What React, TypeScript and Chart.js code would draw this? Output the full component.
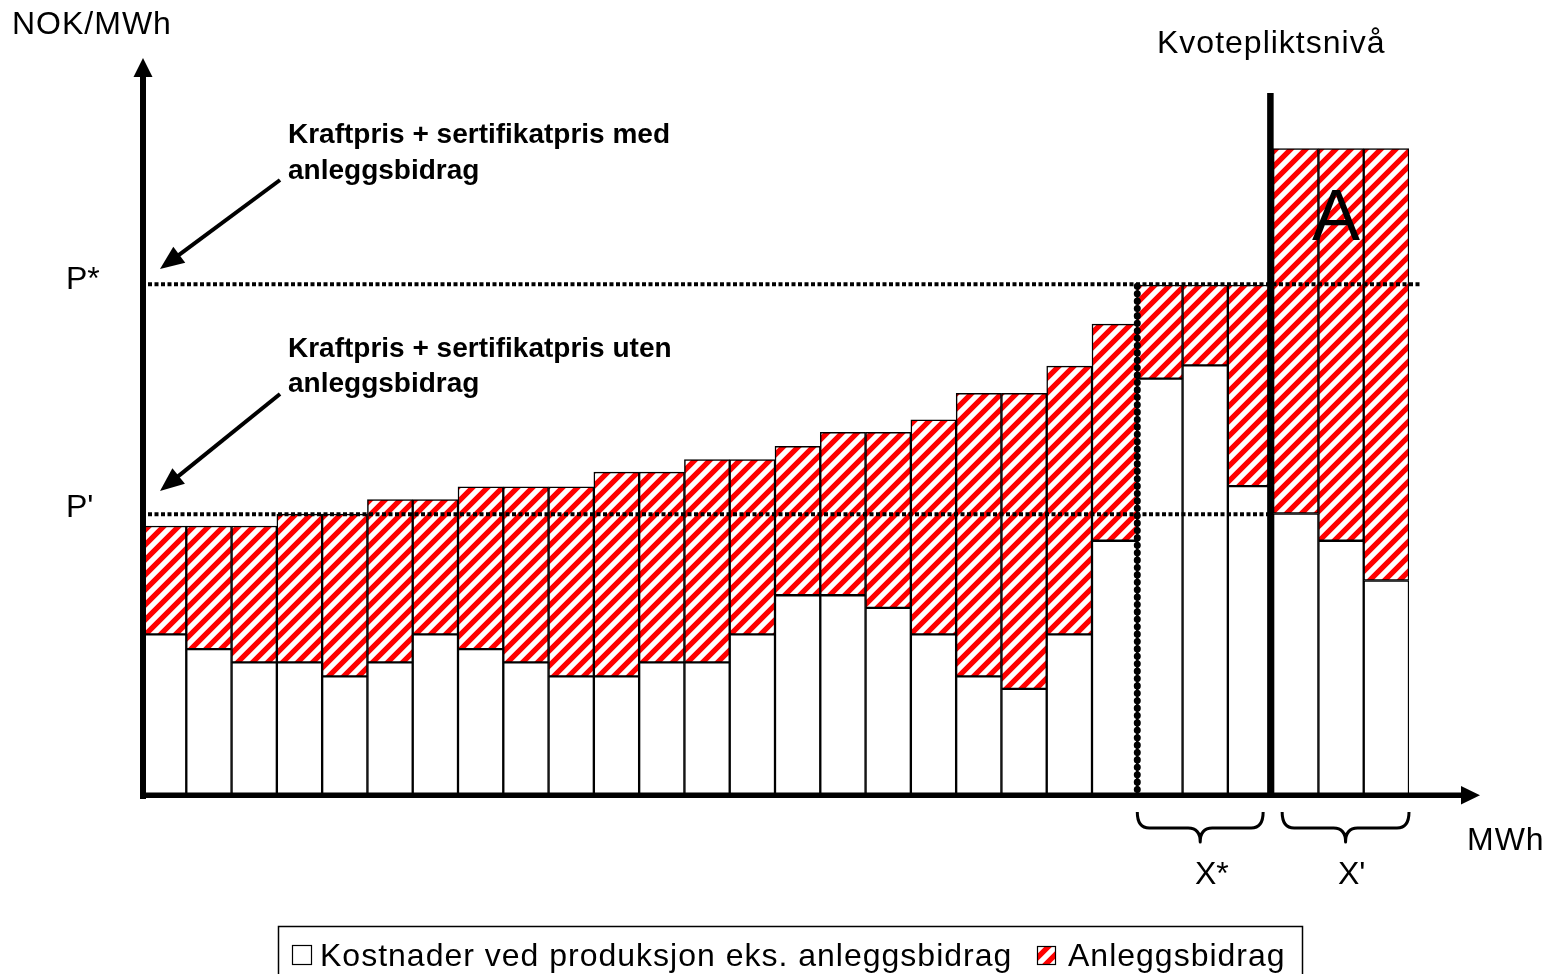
import React, { useEffect, useRef } from 'react';
import { Chart, registerables } from 'chart.js';

Chart.register(...registerables);

// ---- Data ----
const categories = ['1','2','3','4','5','6','7','8','9','10','11','12','13','14','15','16','17','18','19','20','21','22','23','24','25','26','27','28'];
// Kostnader ved produksjon eks. anleggsbidrag (white part)
const costValues = [21.8,19.8,18.0,18.0,16.1,18.0,21.8,19.8,18.0,16.1,16.1,18.0,18.0,21.8,27.1,27.1,25.4,21.8,16.1,14.4,21.8,34.5,56.5,58.3,41.9,38.2,34.5,29.1];
// Anleggsbidrag (hatched part)
const bidragValues = [14.7,16.7,18.5,20.1,22.0,22.1,18.3,22.0,23.8,25.7,27.7,25.8,27.5,23.7,20.2,22.1,23.8,29.1,38.4,40.1,36.4,29.4,12.7,10.9,27.3,49.5,53.2,58.6];
const seriesLabels = ['Kostnader ved produksjon eks. anleggsbidrag', 'Anleggsbidrag'];
const priceLevels = [69.3, 38.1]; // P*, P'
const priceLabels = ['P*', "P'"];
const xStarIndex = 22;      // boundary where X* starts
const quotaIndex = 25;      // Kvotepliktsnivå boundary
const yMax = 100;

const FONT = '"Liberation Sans", Arial, Helvetica, sans-serif';

function makePattern(ctx: CanvasRenderingContext2D): CanvasPattern | string {
  const s = 15;
  const halfW = 2.6;
  const c = document.createElement('canvas');
  c.width = s; c.height = s;
  const g = c.getContext('2d')!;
  const img = g.createImageData(s, s);
  for (let py = 0; py < s; py++) {
    for (let px = 0; px < s; px++) {
      const t = (((px + 0.5) + (py + 0.5)) % s) / s;
      const dist = Math.min(t, 1 - t) * s / Math.SQRT2;
      const cov = Math.max(0, Math.min(1, halfW + 0.5 - dist));
      const i = (py * s + px) * 4;
      img.data[i] = 255;
      img.data[i + 1] = Math.round(255 * (1 - cov));
      img.data[i + 2] = Math.round(255 * (1 - cov));
      img.data[i + 3] = 255;
    }
  }
  g.putImageData(img, 0, 0);
  return ctx.createPattern(c, 'repeat') || '#ff0000';
}

function arrow(ctx: CanvasRenderingContext2D, x1: number, y1: number, x2: number, y2: number, len: number, half: number, lw: number) {
  const ang = Math.atan2(y2 - y1, x2 - x1);
  const bx = x2 - Math.cos(ang) * len;
  const by = y2 - Math.sin(ang) * len;
  ctx.save();
  ctx.strokeStyle = '#000';
  ctx.fillStyle = '#000';
  ctx.lineWidth = lw;
  ctx.lineCap = 'butt';
  ctx.beginPath();
  ctx.moveTo(x1, y1);
  ctx.lineTo(bx + Math.cos(ang) * 2, by + Math.sin(ang) * 2);
  ctx.stroke();
  ctx.beginPath();
  ctx.moveTo(x2, y2);
  ctx.lineTo(bx + Math.cos(ang + Math.PI / 2) * half, by + Math.sin(ang + Math.PI / 2) * half);
  ctx.lineTo(bx - Math.cos(ang + Math.PI / 2) * half, by - Math.sin(ang + Math.PI / 2) * half);
  ctx.closePath();
  ctx.fill();
  ctx.restore();
}

function brace(ctx: CanvasRenderingContext2D, x1: number, x2: number, yTop: number) {
  const h = 16, r = 12, tip = 14;
  const mid = (x1 + x2) / 2;
  const yb = yTop + h;
  ctx.save();
  ctx.strokeStyle = '#000';
  ctx.lineWidth = 3;
  ctx.lineJoin = 'round';
  ctx.beginPath();
  ctx.moveTo(x1, yTop);
  ctx.quadraticCurveTo(x1, yb, x1 + r, yb);
  ctx.lineTo(mid - r, yb);
  ctx.quadraticCurveTo(mid, yb, mid, yb + tip);
  ctx.quadraticCurveTo(mid, yb, mid + r, yb);
  ctx.lineTo(x2 - r, yb);
  ctx.quadraticCurveTo(x2, yb, x2, yTop);
  ctx.stroke();
  ctx.restore();
}

function text(ctx: CanvasRenderingContext2D, s: string, x: number, y: number, size: number, bold = false, spacing = 0) {
  ctx.save();
  ctx.fillStyle = '#000';
  ctx.font = `${bold ? 'bold ' : ''}${size}px ${FONT}`;
  ctx.textAlign = 'left';
  ctx.textBaseline = 'alphabetic';
  (ctx as any).letterSpacing = `${spacing}px`;
  ctx.fillText(s, x, y);
  ctx.restore();
}

export default function App() {
  const ref = useRef<HTMLCanvasElement>(null);
  useEffect(() => {
    const canvas = ref.current!;
    const ctx0 = canvas.getContext('2d')!;
    const pattern = makePattern(ctx0);

    const overlay = {
      id: 'overlay',
      afterDatasetsDraw(chart: any) {
        const ctx: CanvasRenderingContext2D = chart.ctx;
        const xs = chart.scales.x;
        const ys = chart.scales.y;
        const n = categories.length;
        const bw = (xs.getPixelForValue(1) - xs.getPixelForValue(0));
        const bound = (i: number) => xs.getPixelForValue(0) - bw / 2 + i * bw;
        const y0 = ys.getPixelForValue(0);
        const yStar = ys.getPixelForValue(priceLevels[0]);
        const yPrime = ys.getPixelForValue(priceLevels[1]);
        const xQuota = bound(quotaIndex) - 3;
        const xStar = bound(xStarIndex);

        // horizontal dotted price lines
        ctx.save();
        ctx.strokeStyle = '#000';
        ctx.lineWidth = 4;
        ctx.setLineDash([4, 2.5]);
        ctx.beginPath();
        ctx.moveTo(bound(0) + 7, yStar);
        ctx.lineTo(bound(n) + 12, yStar);
        ctx.stroke();
        ctx.beginPath();
        ctx.moveTo(bound(0) + 7, yPrime);
        ctx.lineTo(xQuota, yPrime);
        ctx.stroke();
        ctx.restore();

        // vertical dotted line at X*
        ctx.save();
        ctx.strokeStyle = '#000';
        ctx.lineWidth = 2;
        ctx.beginPath();
        ctx.moveTo(xStar, yStar);
        ctx.lineTo(xStar, y0);
        ctx.stroke();
        ctx.lineWidth = 7;
        ctx.lineCap = 'round';
        ctx.setLineDash([0.1, 7.3]);
        ctx.beginPath();
        ctx.moveTo(xStar, yStar + 2);
        ctx.lineTo(xStar, y0);
        ctx.stroke();
        ctx.restore();

        // Kvotepliktsnivå line
        ctx.save();
        ctx.fillStyle = '#000';
        ctx.fillRect(xQuota - 3, 93, 6.5, y0 + 2 - 93);
        ctx.restore();

        // axes
        ctx.save();
        ctx.fillStyle = '#000';
        const ax = bound(0) + 2;
        ctx.fillRect(ax - 3, 72, 6, y0 + 4 - 72);
        ctx.beginPath();
        ctx.moveTo(ax, 58);
        ctx.lineTo(ax + 9.5, 77);
        ctx.lineTo(ax - 9.5, 77);
        ctx.closePath();
        ctx.fill();
        ctx.fillRect(ax - 3, y0 - 2.5, 1464 - ax, 5.5);
        ctx.beginPath();
        ctx.moveTo(1480, y0 + 0.3);
        ctx.lineTo(1461, y0 - 9);
        ctx.lineTo(1461, y0 + 9.5);
        ctx.closePath();
        ctx.fill();
        ctx.restore();

        // arrows to price lines
        arrow(ctx, 280, 180, 160, 269, 24, 10, 4);
        arrow(ctx, 280, 394, 160, 491, 24, 10, 4);

        // braces
        brace(ctx, xStar, xQuota - 7, 812);
        brace(ctx, xQuota + 12, bound(n), 812);

        // texts
        text(ctx, 'NOK/MWh', 12, 34, 32, false, 1);
        text(ctx, 'Kvotepliktsnivå', 1157, 53, 32, false, 1);
        text(ctx, 'Kraftpris + sertifikatpris med', 288, 143, 28, true);
        text(ctx, 'anleggsbidrag', 288, 179, 28, true);
        text(ctx, 'Kraftpris + sertifikatpris uten', 288, 357, 28, true);
        text(ctx, 'anleggsbidrag', 288, 392, 28, true);
        text(ctx, priceLabels[0], 66, yStar + 5, 32);
        text(ctx, priceLabels[1], 66, yPrime + 3, 32);
        text(ctx, 'A', 1312, 240, 72);
        text(ctx, 'MWh', 1467, 850, 32, false, 1);
        text(ctx, 'X*', 1195, 884, 32, false, 0);
        text(ctx, "X'", 1338, 884, 32, false, 0);

        // legend
        ctx.save();
        ctx.strokeStyle = '#000';
        ctx.lineWidth = 1.5;
        ctx.strokeRect(278.5, 926.5, 1024, 60);
        ctx.fillStyle = '#fff';
        ctx.fillRect(292, 945, 19, 19);
        ctx.lineWidth = 1.2;
        ctx.strokeRect(292.5, 945.5, 19, 19);
        ctx.fillStyle = pattern as any;
        ctx.fillRect(1037, 946, 18, 18);
        ctx.strokeRect(1037.5, 946.5, 18, 18);
        ctx.restore();
        text(ctx, seriesLabels[0], 320, 966, 32, false, 1);
        text(ctx, seriesLabels[1], 1068, 966, 32, false, 1);
      },
    };

    const chart = new Chart(canvas, {
      type: 'bar',
      data: {
        labels: categories,
        datasets: [
          {
            label: seriesLabels[0],
            data: costValues,
            backgroundColor: '#ffffff',
            borderColor: '#000000',
            borderWidth: 1.5,
            borderSkipped: false,
            stack: 's',
            barPercentage: 1,
            categoryPercentage: 1,
          } as any,
          {
            label: seriesLabels[1],
            data: bidragValues,
            backgroundColor: pattern as any,
            borderColor: '#000000',
            borderWidth: 1.5,
            borderSkipped: false,
            stack: 's',
            barPercentage: 1,
            categoryPercentage: 1,
          } as any,
        ],
      },
      options: {
        responsive: false,
        devicePixelRatio: 1,
        animation: false,
        layout: { padding: { left: 141, right: 155, top: 58, bottom: 179 } },
        scales: {
          x: { display: false, stacked: true, grid: { display: false } },
          y: { display: false, stacked: true, min: 0, max: yMax, grid: { display: false } },
        },
        plugins: { legend: { display: false }, tooltip: { enabled: false } },
      },
      plugins: [overlay],
    });
    return () => chart.destroy();
  }, []);

  return (
    <div style={{ position: 'fixed', left: 0, top: 0, width: 1564, height: 974, background: '#ffffff' }}>
      <canvas ref={ref} width={1564} height={974} style={{ display: 'block', width: 1564, height: 974 }} />
    </div>
  );
}
